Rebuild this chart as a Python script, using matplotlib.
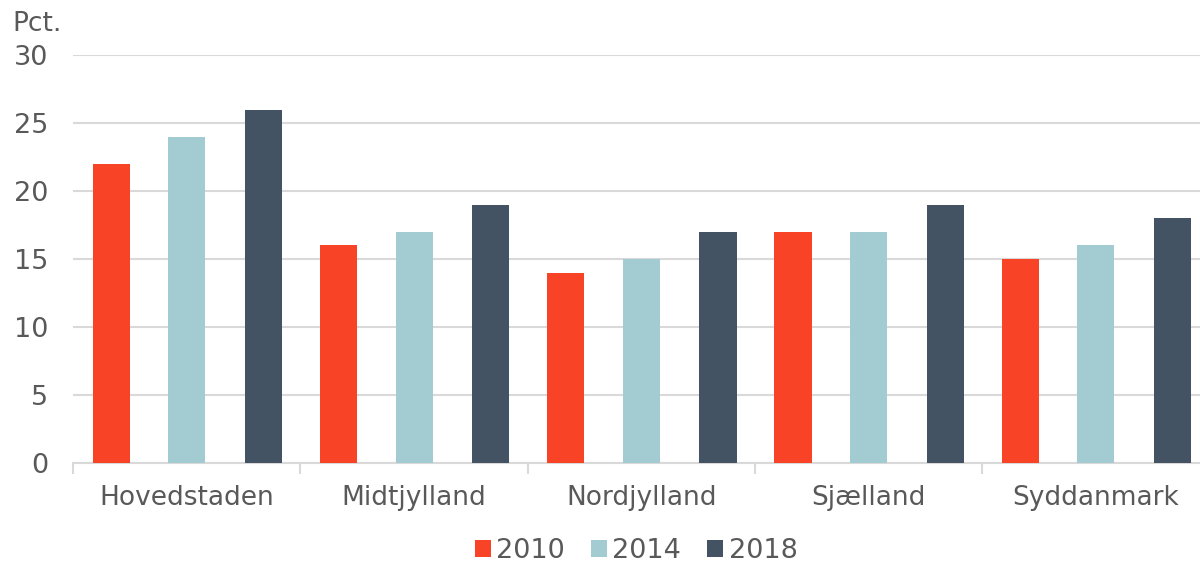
import matplotlib.pyplot as plt
import numpy as np

regions = ["Hovedstaden", "Midtjylland", "Nordjylland", "Sjælland", "Syddanmark"]
years = ["2010", "2014", "2018"]
v2010 = [22, 16, 14, 17, 15]
v2014 = [24, 17, 15, 17, 16]
v2018 = [26, 19, 17, 19, 18]
colors = ["#F84327", "#A2CCD1", "#435363"]
text_col = "#595959"

plt.rcParams['font.family'] = ['DejaVu Sans']

fig = plt.figure(figsize=(12, 5.63), dpi=100)
ax = fig.add_axes([0.061, 0.178, 0.947, 0.724])

x = np.arange(len(regions))
bw = 0.163
offs = [-0.333, 0, 0.337]
for vals, c, o, lab in zip([v2010, v2014, v2018], colors, offs, years):
    ax.bar(x + o, vals, width=bw, color=c, label=lab, zorder=3)

ax.set_xlim(-0.5, len(regions) - 0.5)
ax.set_ylim(0, 30)
ax.set_yticks(range(0, 31, 5))
ax.yaxis.grid(True, color="#D9D9D9", linewidth=1.5, zorder=0)
for s in ["top", "right", "left"]:
    ax.spines[s].set_visible(False)
ax.spines["bottom"].set_color("#D9D9D9")
ax.spines["bottom"].set_linewidth(1.5)
ax.tick_params(axis="y", length=0, labelsize=19.5, labelcolor=text_col, pad=18)
ax.set_xticks(x)
ax.set_xticklabels(regions)
ax.tick_params(axis="x", length=0, labelsize=19, labelcolor=text_col, pad=16)
ax.set_xticks(np.arange(-0.5, len(regions)), minor=True)
ax.tick_params(axis="x", which="minor", length=8, width=1.5, color="#D9D9D9")

fig.text(0.01, 0.945, "Pct.", fontsize=19, color=text_col)

fig.legend(loc="center", bbox_to_anchor=(0.53, 0.021), ncol=3, frameon=False,
           fontsize=19.5, labelcolor=text_col, handlelength=0.6, handleheight=0.6,
           handletextpad=0.2, columnspacing=0.95, borderpad=0)

fig.savefig("out.png", dpi=100)
